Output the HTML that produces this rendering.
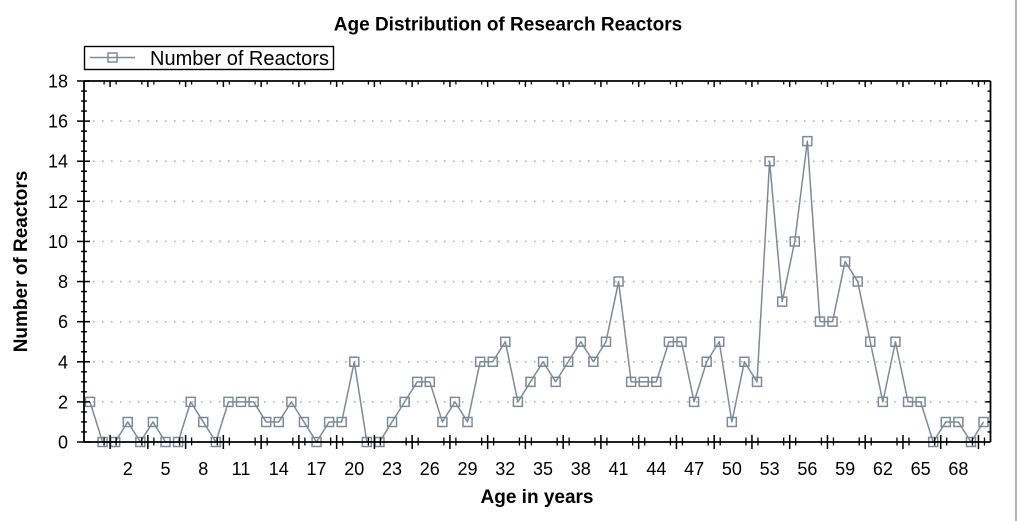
<!DOCTYPE html>
<html>
<head>
<meta charset="utf-8">
<style>
html,body{margin:0;padding:0;background:#fff;}
body{width:1017px;height:521px;overflow:hidden;}
svg{display:block;}
text{font-family:"Liberation Sans",Arial,sans-serif;fill:#000;}
</style>
</head>
<body>
<svg width="1017" height="521" viewBox="0 0 1017 521" xmlns="http://www.w3.org/2000/svg">
<rect x="0" y="0" width="1017" height="521" fill="#fff"/>
<line x1="1016" y1="0" x2="1016" y2="521" stroke="#9a9a9a" stroke-width="1.5"/>

<!-- Title -->
<text x="508" y="30.5" font-size="19" font-weight="bold" text-anchor="middle">Age Distribution of Research Reactors</text>

<!-- Legend -->
<rect x="84.5" y="46.5" width="249" height="23" fill="#fff" stroke="#000" stroke-width="1.4"/>
<line x1="90" y1="57.5" x2="135" y2="57.5" stroke="#7b8b9b" stroke-width="1.5"/>
<rect x="108" y="53" width="9" height="9" fill="none" stroke="#7b8b9b" stroke-width="1.5"/>
<text x="150" y="65" font-size="20">Number of Reactors</text>

<!-- Grid -->
<g stroke="#b4b4b4" stroke-width="1.6" stroke-dasharray="1.6 7.4">
<line x1="93" y1="401.89" x2="988" y2="401.89"/>
<line x1="93" y1="361.78" x2="988" y2="361.78"/>
<line x1="93" y1="321.66" x2="988" y2="321.66"/>
<line x1="93" y1="281.55" x2="988" y2="281.55"/>
<line x1="93" y1="241.44" x2="988" y2="241.44"/>
<line x1="93" y1="201.33" x2="988" y2="201.33"/>
<line x1="93" y1="161.22" x2="988" y2="161.22"/>
<line x1="93" y1="121.1" x2="988" y2="121.1"/>
</g>

<!-- Series -->
<polyline fill="none" stroke="#7b8b9b" stroke-width="1.5" stroke-linejoin="round" points="90,401.89 102.59,442 115.17,442 127.76,421.94 140.34,442 152.93,421.94 165.51,442 178.1,442 190.68,401.89 203.27,421.94 215.85,442 228.44,401.89 241.02,401.89 253.61,401.89 266.19,421.94 278.78,421.94 291.36,401.89 303.95,421.94 316.53,442 329.12,421.94 341.7,421.94 354.29,361.78 366.87,442 379.46,442 392.04,421.94 404.63,401.89 417.21,381.83 429.8,381.83 442.38,421.94 454.97,401.89 467.55,421.94 480.14,361.78 492.72,361.78 505.31,341.72 517.89,401.89 530.48,381.83 543.06,361.78 555.65,381.83 568.23,361.78 580.82,341.72 593.4,361.78 605.99,341.72 618.57,281.55 631.16,381.83 643.74,381.83 656.33,381.83 668.91,341.72 681.5,341.72 694.08,401.89 706.67,361.78 719.25,341.72 731.84,421.94 744.42,361.78 757.01,381.83 769.59,161.22 782.18,301.61 794.76,241.44 807.35,141.16 819.93,321.66 832.52,321.66 845.1,261.5 857.69,281.55 870.27,341.72 882.86,401.89 895.44,341.72 908.03,401.89 920.61,401.89 933.2,442 945.78,421.94 958.37,421.94 970.95,442 983.54,421.94"/>
<path fill="none" stroke="#7b8b9b" stroke-width="1.5" d="M85.5,397.39h9v9h-9z M98.09,437.5h9v9h-9z M110.67,437.5h9v9h-9z M123.26,417.44h9v9h-9z M135.84,437.5h9v9h-9z M148.43,417.44h9v9h-9z M161.01,437.5h9v9h-9z M173.6,437.5h9v9h-9z M186.18,397.39h9v9h-9z M198.77,417.44h9v9h-9z M211.35,437.5h9v9h-9z M223.94,397.39h9v9h-9z M236.52,397.39h9v9h-9z M249.11,397.39h9v9h-9z M261.69,417.44h9v9h-9z M274.28,417.44h9v9h-9z M286.86,397.39h9v9h-9z M299.45,417.44h9v9h-9z M312.03,437.5h9v9h-9z M324.62,417.44h9v9h-9z M337.2,417.44h9v9h-9z M349.79,357.28h9v9h-9z M362.37,437.5h9v9h-9z M374.96,437.5h9v9h-9z M387.54,417.44h9v9h-9z M400.13,397.39h9v9h-9z M412.71,377.33h9v9h-9z M425.3,377.33h9v9h-9z M437.88,417.44h9v9h-9z M450.47,397.39h9v9h-9z M463.05,417.44h9v9h-9z M475.64,357.28h9v9h-9z M488.22,357.28h9v9h-9z M500.81,337.22h9v9h-9z M513.39,397.39h9v9h-9z M525.98,377.33h9v9h-9z M538.56,357.28h9v9h-9z M551.15,377.33h9v9h-9z M563.73,357.28h9v9h-9z M576.32,337.22h9v9h-9z M588.9,357.28h9v9h-9z M601.49,337.22h9v9h-9z M614.07,277.05h9v9h-9z M626.66,377.33h9v9h-9z M639.24,377.33h9v9h-9z M651.83,377.33h9v9h-9z M664.41,337.22h9v9h-9z M677,337.22h9v9h-9z M689.58,397.39h9v9h-9z M702.17,357.28h9v9h-9z M714.75,337.22h9v9h-9z M727.34,417.44h9v9h-9z M739.92,357.28h9v9h-9z M752.51,377.33h9v9h-9z M765.09,156.72h9v9h-9z M777.68,297.11h9v9h-9z M790.26,236.94h9v9h-9z M802.85,136.66h9v9h-9z M815.43,317.16h9v9h-9z M828.02,317.16h9v9h-9z M840.6,257h9v9h-9z M853.19,277.05h9v9h-9z M865.77,337.22h9v9h-9z M878.36,397.39h9v9h-9z M890.94,337.22h9v9h-9z M903.53,397.39h9v9h-9z M916.11,397.39h9v9h-9z M928.7,437.5h9v9h-9z M941.28,417.44h9v9h-9z M953.87,417.44h9v9h-9z M966.45,437.5h9v9h-9z M979.04,417.44h9v9h-9z"/>

<!-- Axes frame -->
<g stroke="#000" stroke-width="1.8" fill="none">
<line x1="84" y1="81" x2="990.5" y2="81"/>
<line x1="84" y1="442" x2="990.5" y2="442"/>
<line x1="84" y1="81" x2="84" y2="442"/>
<line x1="990.5" y1="81" x2="990.5" y2="442"/>
</g>

<!-- Y ticks -->
<g stroke="#000" stroke-width="1.5">
<!-- majors left -->
<line x1="77" y1="442" x2="90" y2="442"/>
<line x1="77" y1="401.89" x2="90" y2="401.89"/>
<line x1="77" y1="361.78" x2="90" y2="361.78"/>
<line x1="77" y1="321.66" x2="90" y2="321.66"/>
<line x1="77" y1="281.55" x2="90" y2="281.55"/>
<line x1="77" y1="241.44" x2="90" y2="241.44"/>
<line x1="77" y1="201.33" x2="90" y2="201.33"/>
<line x1="77" y1="161.22" x2="90" y2="161.22"/>
<line x1="77" y1="121.1" x2="90" y2="121.1"/>
<line x1="77" y1="81" x2="90" y2="81"/>
<!-- majors right -->
<line x1="985.5" y1="401.89" x2="990.5" y2="401.89"/>
<line x1="985.5" y1="361.78" x2="990.5" y2="361.78"/>
<line x1="985.5" y1="321.66" x2="990.5" y2="321.66"/>
<line x1="985.5" y1="281.55" x2="990.5" y2="281.55"/>
<line x1="985.5" y1="241.44" x2="990.5" y2="241.44"/>
<line x1="985.5" y1="201.33" x2="990.5" y2="201.33"/>
<line x1="985.5" y1="161.22" x2="990.5" y2="161.22"/>
<line x1="985.5" y1="121.1" x2="990.5" y2="121.1"/>
</g>
<path stroke="#000" stroke-width="1.4" fill="none" d="
M81,431.97h6 M81,421.94h6 M81,411.92h6 M81,391.86h6 M81,381.83h6 M81,371.8h6 M81,351.75h6 M81,341.72h6 M81,331.69h6 M81,311.64h6 M81,301.61h6 M81,291.58h6 M81,271.52h6 M81,261.5h6 M81,251.47h6 M81,231.41h6 M81,221.38h6 M81,211.36h6 M81,191.3h6 M81,181.27h6 M81,171.24h6 M81,151.19h6 M81,141.16h6 M81,131.13h6 M81,111.08h6 M81,101.05h6 M81,91.02h6
M987.5,431.97h3 M987.5,421.94h3 M987.5,411.92h3 M987.5,391.86h3 M987.5,381.83h3 M987.5,371.8h3 M987.5,351.75h3 M987.5,341.72h3 M987.5,331.69h3 M987.5,311.64h3 M987.5,301.61h3 M987.5,291.58h3 M987.5,271.52h3 M987.5,261.5h3 M987.5,251.47h3 M987.5,231.41h3 M987.5,221.38h3 M987.5,211.36h3 M987.5,191.3h3 M987.5,181.27h3 M987.5,171.24h3 M987.5,151.19h3 M987.5,141.16h3 M987.5,131.13h3 M987.5,111.08h3 M987.5,101.05h3 M987.5,91.02h3"/>

<!-- X ticks -->
<path stroke="#000" stroke-width="1.5" fill="none" d="
M110.1,435v14 M147.86,435v14 M185.61,435v14 M223.37,435v14 M261.12,435v14 M298.88,435v14 M336.63,435v14 M374.39,435v14 M412.14,435v14 M449.9,435v14 M487.65,435v14 M525.41,435v14 M563.16,435v14 M600.92,435v14 M638.67,435v14 M676.43,435v14 M714.18,435v14 M751.94,435v14 M789.69,435v14 M827.45,435v14 M865.2,435v14 M902.96,435v14 M940.71,435v14 M978.47,435v14
M110.1,81v6 M147.86,81v6 M185.61,81v6 M223.37,81v6 M261.12,81v6 M298.88,81v6 M336.63,81v6 M374.39,81v6 M412.14,81v6 M449.9,81v6 M487.65,81v6 M525.41,81v6 M563.16,81v6 M600.92,81v6 M638.67,81v6 M676.43,81v6 M714.18,81v6 M751.94,81v6 M789.69,81v6 M827.45,81v6 M865.2,81v6 M902.96,81v6 M940.71,81v6 M978.47,81v6"/>
<path stroke="#000" stroke-width="1.3" fill="none" d="
M104.1,437.5v8 M116.1,437.5v8 M141.86,437.5v8 M153.86,437.5v8 M179.61,437.5v8 M191.61,437.5v8 M217.37,437.5v8 M229.37,437.5v8 M255.12,437.5v8 M267.12,437.5v8 M292.88,437.5v8 M304.88,437.5v8 M330.63,437.5v8 M342.63,437.5v8 M368.39,437.5v8 M380.39,437.5v8 M406.14,437.5v8 M418.14,437.5v8 M443.9,437.5v8 M455.9,437.5v8 M481.65,437.5v8 M493.65,437.5v8 M519.41,437.5v8 M531.41,437.5v8 M557.16,437.5v8 M569.16,437.5v8 M594.92,437.5v8 M606.92,437.5v8 M632.67,437.5v8 M644.67,437.5v8 M670.43,437.5v8 M682.43,437.5v8 M708.18,437.5v8 M720.18,437.5v8 M745.94,437.5v8 M757.94,437.5v8 M783.69,437.5v8 M795.69,437.5v8 M821.45,437.5v8 M833.45,437.5v8 M859.2,437.5v8 M871.2,437.5v8 M896.96,437.5v8 M908.96,437.5v8 M934.71,437.5v8 M946.71,437.5v8 M972.47,437.5v8 M984.47,437.5v8
M104.1,81v3.5 M116.1,81v3.5 M141.86,81v3.5 M153.86,81v3.5 M179.61,81v3.5 M191.61,81v3.5 M217.37,81v3.5 M229.37,81v3.5 M255.12,81v3.5 M267.12,81v3.5 M292.88,81v3.5 M304.88,81v3.5 M330.63,81v3.5 M342.63,81v3.5 M368.39,81v3.5 M380.39,81v3.5 M406.14,81v3.5 M418.14,81v3.5 M443.9,81v3.5 M455.9,81v3.5 M481.65,81v3.5 M493.65,81v3.5 M519.41,81v3.5 M531.41,81v3.5 M557.16,81v3.5 M569.16,81v3.5 M594.92,81v3.5 M606.92,81v3.5 M632.67,81v3.5 M644.67,81v3.5 M670.43,81v3.5 M682.43,81v3.5 M708.18,81v3.5 M720.18,81v3.5 M745.94,81v3.5 M757.94,81v3.5 M783.69,81v3.5 M795.69,81v3.5 M821.45,81v3.5 M833.45,81v3.5 M859.2,81v3.5 M871.2,81v3.5 M896.96,81v3.5 M908.96,81v3.5 M934.71,81v3.5 M946.71,81v3.5 M972.47,81v3.5 M984.47,81v3.5"/>

<!-- Y labels -->
<g font-size="18" text-anchor="end">
<text x="68" y="448.5">0</text>
<text x="68" y="408.4">2</text>
<text x="68" y="368.3">4</text>
<text x="68" y="328.2">6</text>
<text x="68" y="288">8</text>
<text x="68" y="247.9">10</text>
<text x="68" y="207.8">12</text>
<text x="68" y="167.7">14</text>
<text x="68" y="127.6">16</text>
<text x="68" y="87.5">18</text>
</g>

<!-- X labels -->
<g font-size="18" text-anchor="middle">
<text x="127.76" y="475">2</text>
<text x="165.51" y="475">5</text>
<text x="203.27" y="475">8</text>
<text x="241.02" y="475">11</text>
<text x="278.78" y="475">14</text>
<text x="316.53" y="475">17</text>
<text x="354.29" y="475">20</text>
<text x="392.04" y="475">23</text>
<text x="429.8" y="475">26</text>
<text x="467.55" y="475">29</text>
<text x="505.31" y="475">32</text>
<text x="543.06" y="475">35</text>
<text x="580.82" y="475">38</text>
<text x="618.57" y="475">41</text>
<text x="656.33" y="475">44</text>
<text x="694.08" y="475">47</text>
<text x="731.84" y="475">50</text>
<text x="769.59" y="475">53</text>
<text x="807.35" y="475">56</text>
<text x="845.1" y="475">59</text>
<text x="882.86" y="475">62</text>
<text x="920.61" y="475">65</text>
<text x="958.37" y="475">68</text>
</g>

<!-- Axis titles -->
<text x="537" y="503" font-size="19" font-weight="bold" text-anchor="middle">Age in years</text>
<text transform="translate(27,261.5) rotate(-90)" x="0" y="0" font-size="19" font-weight="bold" text-anchor="middle">Number of Reactors</text>
</svg>
</body>
</html>
